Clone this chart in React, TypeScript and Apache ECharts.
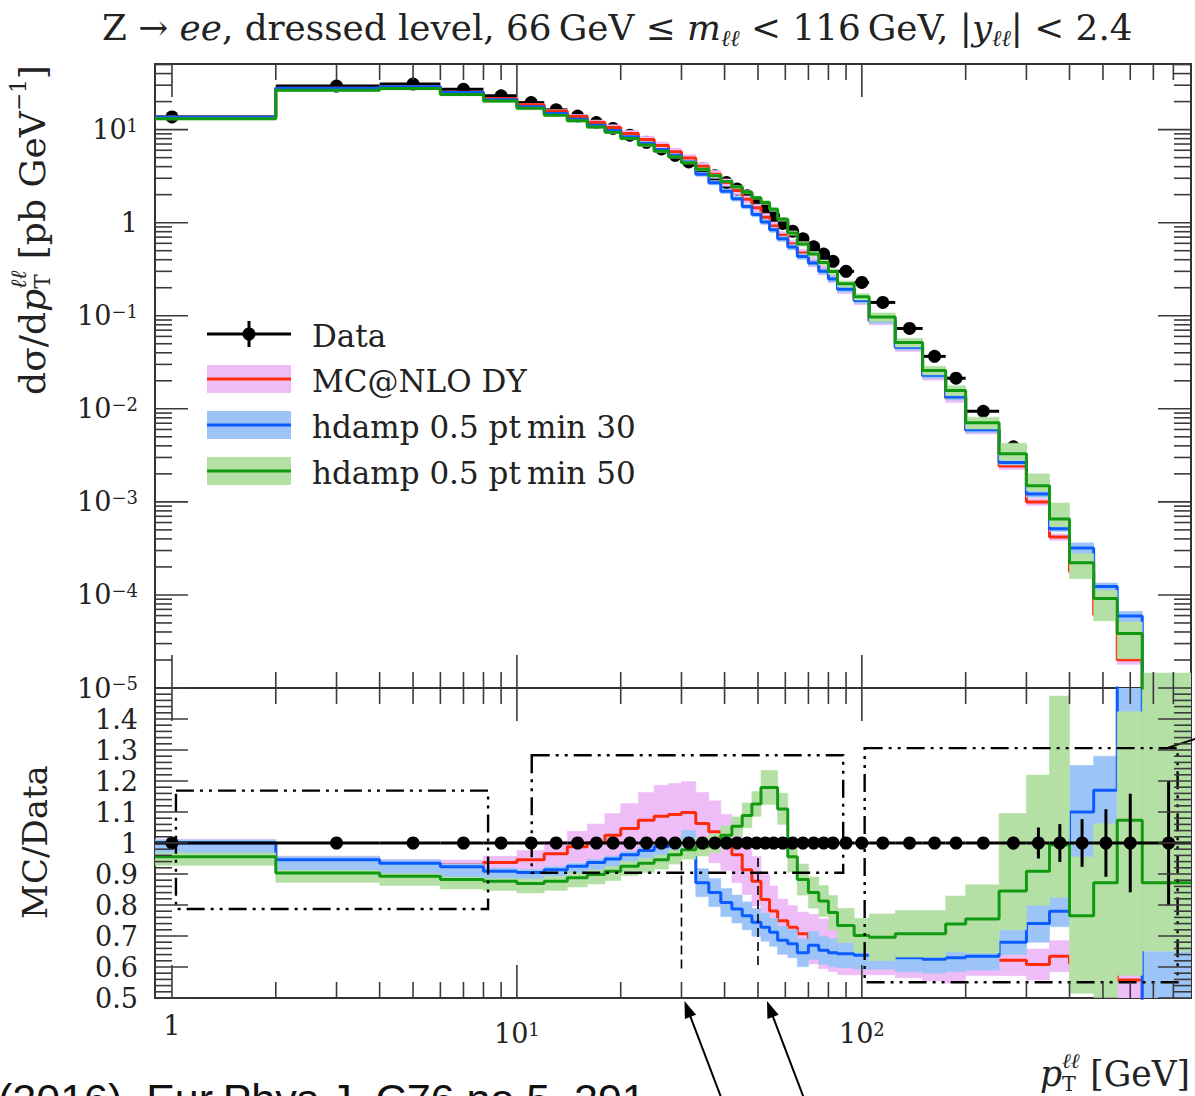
import React, { useEffect, useRef } from 'react';
import * as echarts from 'echarts';

// ---------------- data ----------------
const binEdges = [0, 2, 4, 6, 8, 10, 12, 14, 16, 18, 20, 22.5, 25, 27.5, 30, 33, 36, 39, 42, 45, 48, 51, 54, 57, 61, 65, 70, 75, 80, 85, 95, 105, 125, 150, 175, 200, 250, 300, 350, 400, 470, 550, 650, 900];

// dσ/dpT [pb/GeV]
const dataXsec = [13.7, 29.4, 30.9, 27.1, 23.1, 19.5, 16.3, 14.0, 11.9, 10.3, 8.7, 7.3, 6.2, 5.3, 4.5, 3.8, 3.2, 2.7, 2.3, 1.95, 1.65, 1.4, 1.18, 0.98, 0.81, 0.67, 0.55, 0.46, 0.385, 0.30, 0.228, 0.139, 0.073, 0.0366, 0.0213, 0.0094, 0.0039, 0.00164, 0.00066, 0.00029, 0.000105, 0.000036, 0.0000095];
const dataRelErr = [0.006, 0.005, 0.005, 0.005, 0.005, 0.005, 0.005, 0.005, 0.005, 0.005, 0.005, 0.005, 0.005, 0.005, 0.005, 0.005, 0.005, 0.006, 0.006, 0.006, 0.006, 0.006, 0.006, 0.006, 0.006, 0.007, 0.007, 0.007, 0.008, 0.008, 0.008, 0.009, 0.01, 0.012, 0.014, 0.016, 0.02, 0.05, 0.061, 0.077, 0.109, 0.159, 0.2];

// MC / Data ratios and band half-widths
const mcnloRatio = [1.0, 0.946, 0.935, 0.93, 0.937, 0.946, 0.965, 0.988, 1.001, 1.025, 1.047, 1.073, 1.086, 1.092, 1.098, 1.063, 1.036, 1.002, 0.962, 0.914, 0.877, 0.818, 0.781, 0.749, 0.728, 0.707, 0.69, 0.675, 0.665, 0.655, 0.645, 0.635, 0.625, 0.615, 0.608, 0.622, 0.622, 0.608, 0.635, 0.611, 0.585, 0.558, 0.45];
const mcnloBand = [0.012, 0.012, 0.012, 0.015, 0.02, 0.03, 0.04, 0.05, 0.06, 0.07, 0.08, 0.09, 0.1, 0.1, 0.1, 0.1, 0.1, 0.09, 0.09, 0.08, 0.08, 0.08, 0.08, 0.07, 0.07, 0.07, 0.08, 0.08, 0.08, 0.08, 0.07, 0.06, 0.06, 0.06, 0.06, 0.05, 0.05, 0.05, 0.05, 0.06, 0.06, 0.06, 0.08];

const hdamp30Ratio = [1.0, 0.946, 0.935, 0.923, 0.909, 0.905, 0.914, 0.925, 0.937, 0.948, 0.962, 0.976, 0.988, 0.999, 0.995, 0.872, 0.84, 0.808, 0.787, 0.765, 0.744, 0.728, 0.712, 0.686, 0.675, 0.646, 0.67, 0.654, 0.646, 0.643, 0.638, 0.638, 0.63, 0.625, 0.63, 0.635, 0.68, 0.74, 0.78, 1.1, 1.17, 1.65, 0.48];
const hdamp30BandUp = [0.01, 0.01, 0.01, 0.01, 0.01, 0.01, 0.01, 0.01, 0.01, 0.01, 0.01, 0.01, 0.01, 0.01, 0.045, 0.045, 0.045, 0.045, 0.045, 0.045, 0.045, 0.045, 0.045, 0.045, 0.045, 0.045, 0.045, 0.045, 0.045, 0.045, 0.045, 0.045, 0.045, 0.045, 0.045, 0.045, 0.04, 0.06, 0.05, 0.15, 0.11, 0.2, 0.17];
const hdamp30BandDn = [0.035, 0.035, 0.035, 0.035, 0.035, 0.035, 0.035, 0.035, 0.035, 0.035, 0.035, 0.035, 0.035, 0.035, 0.03, 0.045, 0.045, 0.045, 0.045, 0.045, 0.045, 0.045, 0.045, 0.045, 0.045, 0.045, 0.045, 0.045, 0.045, 0.045, 0.045, 0.045, 0.045, 0.045, 0.045, 0.045, 0.04, 0.06, 0.05, 0.15, 0.11, 0.23, 0.15];

const hdamp50Ratio = [0.956, 0.903, 0.893, 0.882, 0.877, 0.869, 0.877, 0.888, 0.898, 0.909, 0.925, 0.935, 0.946, 0.962, 0.978, 0.988, 0.999, 1.025, 1.054, 1.089, 1.126, 1.179, 1.179, 1.11, 0.956, 0.882, 0.84, 0.813, 0.776, 0.734, 0.702, 0.696, 0.707, 0.707, 0.739, 0.755, 0.845, 0.909, 0.994, 0.765, 0.872, 1.073, 0.872];
const hdamp50BandUp = [0.012, 0.008, 0.008, 0.008, 0.008, 0.015, 0.015, 0.015, 0.015, 0.015, 0.015, 0.015, 0.015, 0.015, 0.03, 0.03, 0.03, 0.03, 0.03, 0.04, 0.04, 0.055, 0.055, 0.05, 0.05, 0.05, 0.05, 0.05, 0.055, 0.055, 0.055, 0.075, 0.075, 0.075, 0.09, 0.11, 0.25, 0.31, 0.48, 0.19, 0.19, 0.35, 0.65];
const hdamp50BandDn = [0.028, 0.03, 0.03, 0.03, 0.03, 0.03, 0.03, 0.03, 0.03, 0.03, 0.03, 0.03, 0.03, 0.03, 0.03, 0.03, 0.03, 0.03, 0.03, 0.04, 0.04, 0.055, 0.055, 0.05, 0.05, 0.05, 0.05, 0.05, 0.055, 0.055, 0.055, 0.075, 0.075, 0.075, 0.09, 0.11, 0.125, 0.11, 0.17, 0.25, 0.37, 0.5, 0.22];

// axes
const X_MIN = 0.893;
const X_MAX = 900;
const Y_TOP_MIN = 1e-5;
const Y_TOP_MAX = 50.7;
const R_MIN = 0.5;
const R_MAX = 1.5;

const xMajorTicks = [1, 10, 100];
const xTickLabels = ['1', '10^1', '10^2'];
const yTopMajorTicks = [1e-5, 1e-4, 1e-3, 1e-2, 1e-1, 1, 10];
const yTopTickLabels = ['10^−5', '10^−4', '10^−3', '10^−2', '10^−1', '1', '10^1'];
const ratioMajorTicks = [0.5, 0.6, 0.7, 0.8, 0.9, 1.0, 1.1, 1.2, 1.3, 1.4];
const ratioTickLabels = ['0.5', '0.6', '0.7', '0.8', '0.9', '1', '1.1', '1.2', '1.3', '1.4'];

// annotations (ratio-panel coordinates)
const annotationBoxes = [
  [1.027, 8.25, 0.787, 1.169],
  [11.04, 88.3, 0.904, 1.283],
  [101.9, 823, 0.551, 1.306],
];
const markerPt = [30, 50];
const markerRange = [[0.586, 0.94], [0.605, 0.952]];

// ---------------- styles ----------------
const SERIF = 'DejaVu Serif';
const INK = '#222';
const TICK = '#3a3a3a';
const RED = '#ff2a0a';
const PINK = '#eebdf7';
const BLUE = '#0a5cff';
const LBLUE = '#9dc4f7';
const GREEN = '#119a11';
const LGREEN = '#b4e0a5';

const binLo = (i: number) => Math.max(binEdges[i], X_MIN);
const binHi = (i: number) => binEdges[i + 1];
const binCenter = (i: number) => (binEdges[i] + binEdges[i + 1]) / 2;

// ---------- text helpers ----------
let measureCtx: any = null;
function textWidth(t: string, font: string) {
  if (!measureCtx) measureCtx = document.createElement('canvas').getContext('2d');
  measureCtx.font = font;
  return measureCtx.measureText(t).width;
}
type Piece = { t: string; s?: number; it?: boolean; dy?: number; stack?: boolean };
function composeText(pieces: Piece[], base: number, target: number | null, align: string) {
  const fontOf = (p: Piece, S: number) => `${p.it ? 'italic ' : ''}${(p.s || 1) * S}px "${SERIF}"`;
  const layout = (S: number) => {
    const out: any[] = [];
    let x = 0;
    for (let i = 0; i < pieces.length; i++) {
      const p = pieces[i];
      const w = textWidth(p.t, fontOf(p, S));
      out.push({ p, x });
      if (p.stack && i + 1 < pieces.length) {
        const q = pieces[i + 1];
        const w2 = textWidth(q.t, fontOf(q, S));
        out.push({ p: q, x });
        x += Math.max(w, w2);
        i++;
      } else x += w;
    }
    return { out, width: x };
  };
  let S = base;
  let L = layout(S);
  if (target) {
    S = (base * target) / L.width;
    L = layout(S);
  }
  const x0 = align === 'left' ? 0 : align === 'center' ? -L.width / 2 : -L.width;
  return L.out.map((o: any) => ({
    type: 'text',
    x: x0 + o.x,
    y: (o.p.dy || 0) * S,
    style: {
      text: o.p.t, fontFamily: SERIF, fontSize: (o.p.s || 1) * S, fontStyle: o.p.it ? 'italic' : 'normal',
      fill: INK, align: 'left', verticalAlign: 'middle',
    },
  }));
}

function labelRich(size: number, expSize: number) {
  return {
    b: { fontFamily: SERIF, fontSize: size, lineHeight: size, verticalAlign: 'bottom', fill: INK, color: INK },
    e: { fontFamily: SERIF, fontSize: expSize, lineHeight: expSize, padding: [0, 0, Math.round(size * 0.45), 0], verticalAlign: 'top', fill: INK, color: INK },
  };
}
function labelText(s: string) {
  const p = s.split('^');
  return p.length === 2 ? `{b|${p[0]}}{e|${p[1]}}` : `{b|${s}}`;
}

// ---------- series builders ----------
function bandSeries(xi: number, lo: number[], hi: number[], color: string, z: number) {
  return {
    type: 'custom', xAxisIndex: xi, yAxisIndex: xi, clip: true, z, silent: true,
    data: lo.map((l, i) => [binLo(i), binHi(i), l, hi[i]]),
    encode: { x: [0, 1], y: [2, 3] },
    renderItem: (params: any, api: any) => {
      const a = api.coord([api.value(0), api.value(3)]);
      const b = api.coord([api.value(1), api.value(2)]);
      return {
        type: 'rect',
        shape: { x: a[0], y: a[1], width: b[0] - a[0], height: b[1] - a[1] },
        style: { fill: color, stroke: color, lineWidth: 0.6 },
      };
    },
  };
}

function stepSeries(xi: number, vals: number[], color: string, z: number) {
  const pts = vals.map((v, i) => [binLo(i), v]);
  pts.push([binEdges[binEdges.length - 1], vals[vals.length - 1]]);
  return {
    type: 'line', xAxisIndex: xi, yAxisIndex: xi, data: pts, step: 'end', symbol: 'none', showSymbol: false,
    clip: true, z, silent: true, animation: false,
    lineStyle: { color, width: 3 },
  };
}

function dataSeries(xi: number, vals: number[], lo: number[], hi: number[], z: number) {
  return {
    type: 'custom', xAxisIndex: xi, yAxisIndex: xi, clip: true, z, silent: true,
    data: vals.map((v, i) => [binLo(i), binHi(i), binCenter(i), v, lo[i], hi[i]]),
    encode: { x: [0, 1, 2], y: [3, 4, 5] },
    renderItem: (params: any, api: any) => {
      const pL = api.coord([api.value(0), api.value(3)]);
      const pR = api.coord([api.value(1), api.value(3)]);
      const pC = api.coord([api.value(2), api.value(3)]);
      const pLo = api.coord([api.value(2), api.value(4)]);
      const pHi = api.coord([api.value(2), api.value(5)]);
      return {
        type: 'group',
        children: [
          { type: 'line', shape: { x1: pL[0], y1: pL[1], x2: pR[0], y2: pR[1] }, style: { stroke: '#000', lineWidth: 3 } },
          { type: 'line', shape: { x1: pC[0], y1: pLo[1], x2: pC[0], y2: pHi[1] }, style: { stroke: '#000', lineWidth: 3 } },
          { type: 'circle', shape: { cx: pC[0], cy: pC[1], r: 6.5 }, style: { fill: '#000' } },
        ],
      };
    },
  };
}

function xTickSeries(gi: number, withLabels: boolean) {
  const items: any[] = [];
  xMajorTicks.forEach((v, k) => items.push([v, 1, 1, k]));
  [1, 10, 100].forEach((d) => {
    for (let m = 2; m <= 9; m++) if (m * d < X_MAX) items.push([m * d, 1, 0, -1]);
  });
  const rich = labelRich(27, 18);
  return {
    type: 'custom', xAxisIndex: gi, yAxisIndex: gi, z: 20, silent: true, clip: false,
    data: items, encode: { x: 0, y: 1 },
    renderItem: (params: any, api: any) => {
      const cs = params.coordSys;
      const px = api.coord([api.value(0), api.value(1)])[0];
      const len = api.value(2) ? 33 : 16;
      const st = { stroke: TICK, lineWidth: 1.6 };
      const children: any[] = [
        { type: 'line', shape: { x1: px, y1: cs.y, x2: px, y2: cs.y + len }, style: st },
        { type: 'line', shape: { x1: px, y1: cs.y + cs.height, x2: px, y2: cs.y + cs.height - len }, style: st },
      ];
      const li = api.value(3);
      if (withLabels && li >= 0) {
        const lab = xTickLabels[li];
        const hasExp = lab.indexOf('^') >= 0;
        children.push({
          type: 'text', x: px, y: cs.y + cs.height + (hasExp ? 22 : 14),
          style: { text: labelText(lab), rich, align: 'center', verticalAlign: 'top', fill: INK, fontFamily: SERIF, fontSize: 27 },
        });
      }
      return { type: 'group', children };
    },
  };
}

function yTickSeries(gi: number, majors: number[], labels: string[], minors: number[]) {
  const items: any[] = [];
  majors.forEach((v, k) => items.push([1, v, 1, k]));
  minors.forEach((v) => items.push([1, v, 0, -1]));
  const rich = labelRich(27, 18);
  return {
    type: 'custom', xAxisIndex: gi, yAxisIndex: gi, z: 20, silent: true, clip: false,
    data: items, encode: { x: 0, y: 1 },
    renderItem: (params: any, api: any) => {
      const cs = params.coordSys;
      const py = api.coord([api.value(0), api.value(1)])[1];
      const len = api.value(2) ? 33 : 17;
      const st = { stroke: TICK, lineWidth: 1.6 };
      const children: any[] = [
        { type: 'line', shape: { x1: cs.x, y1: py, x2: cs.x + len, y2: py }, style: st },
        { type: 'line', shape: { x1: cs.x + cs.width, y1: py, x2: cs.x + cs.width - len, y2: py }, style: st },
      ];
      const li = api.value(3);
      if (li >= 0) {
        children.push({
          type: 'text', x: cs.x - 17, y: py,
          style: { text: labelText(labels[li]), rich, align: 'right', verticalAlign: 'middle', fill: INK, fontFamily: SERIF, fontSize: 27 },
        });
      }
      return { type: 'group', children };
    },
  };
}

function annotationSeries() {
  return {
    type: 'custom', xAxisIndex: 1, yAxisIndex: 1, z: 15, silent: true, clip: false,
    data: [[1, 1]], encode: { x: 0, y: 1 },
    renderItem: (params: any, api: any) => {
      const children: any[] = [];
      const dashDot = { stroke: '#000', lineWidth: 2.4, fill: 'none', lineDash: [18, 6, 3, 6, 3, 6] };
      annotationBoxes.forEach((b) => {
        const p1 = api.coord([b[0], b[3]]);
        const p2 = api.coord([b[1], b[2]]);
        children.push({
          type: 'polygon',
          shape: { points: [[p1[0], p1[1]], [p2[0], p1[1]], [p2[0], p2[1]], [p1[0], p2[1]]] },
          style: dashDot,
        });
      });
      const b3 = annotationBoxes[2];
      const c3 = api.coord([b3[1], b3[3]]);
      children.push({ type: 'line', shape: { x1: c3[0] - 11, y1: c3[1], x2: c3[0] + 20, y2: c3[1] - 10 }, style: { stroke: '#000', lineWidth: 2 } });
      markerPt.forEach((x, k) => {
        const a = api.coord([x, markerRange[k][1]]);
        const b = api.coord([x, markerRange[k][0]]);
        children.push({ type: 'line', shape: { x1: a[0], y1: a[1], x2: b[0], y2: b[1] }, style: { stroke: '#000', lineWidth: 1.6, lineDash: [9, 5] } });
        const tip = api.coord([x, R_MIN]);
        const tx = tip[0] + 3 + k * 6;
        const ty = tip[1] + 3;
        const dx = 38, dy = 100;
        const L = Math.sqrt(dx * dx + dy * dy);
        const ux = dx / L, uy = dy / L;
        const hl = 17, hw = 6;
        children.push({ type: 'line', shape: { x1: tx + ux * 10, y1: ty + uy * 10, x2: tx + dx, y2: ty + dy }, style: { stroke: '#000', lineWidth: 2 } });
        children.push({
          type: 'polygon',
          shape: { points: [[tx, ty], [tx + ux * hl - uy * hw, ty + uy * hl + ux * hw], [tx + ux * hl + uy * hw, ty + uy * hl - ux * hw]] },
          style: { fill: '#000' },
        });
      });
      return { type: 'group', children };
    },
  };
}

function buildOption() {
  const mcs = [
    { ratio: mcnloRatio, up: mcnloBand, dn: mcnloBand, line: RED, band: PINK },
    { ratio: hdamp30Ratio, up: hdamp30BandUp, dn: hdamp30BandDn, line: BLUE, band: LBLUE },
    { ratio: hdamp50Ratio, up: hdamp50BandUp, dn: hdamp50BandDn, line: GREEN, band: LGREEN },
  ];
  const series: any[] = [];
  // data in the upper panel sits beneath the predictions
  series.push(dataSeries(0, dataXsec, dataXsec.map((v, i) => v * (1 - dataRelErr[i])), dataXsec.map((v, i) => v * (1 + dataRelErr[i])), 1));
  mcs.forEach((m, k) => {
    const z = 2 + 2 * k;
    const topVals = m.ratio.map((r, i) => r * dataXsec[i]);
    const topLo = m.ratio.map((r, i) => (r - m.dn[i]) * dataXsec[i]);
    const topHi = m.ratio.map((r, i) => (r + m.up[i]) * dataXsec[i]);
    series.push(bandSeries(0, topLo, topHi, m.band, z));
    series.push(stepSeries(0, topVals, m.line, z + 1));
    series.push(bandSeries(1, m.ratio.map((r, i) => r - m.dn[i]), m.ratio.map((r, i) => r + m.up[i]), m.band, z));
    series.push(stepSeries(1, m.ratio, m.line, z + 1));
  });
  const ones = dataXsec.map(() => 1);
  series.push(dataSeries(1, ones, dataRelErr.map((e) => 1 - e), dataRelErr.map((e) => 1 + e), 10));

  const topMinors: number[] = [];
  for (let e = -5; e <= 1; e++) for (let m = 2; m <= 9; m++) { const v = m * Math.pow(10, e); if (v < Y_TOP_MAX) topMinors.push(v); }
  const ratioMinors: number[] = [];
  for (let k = 51; k < 150; k++) if (k % 2 === 0 && k % 10 !== 0) ratioMinors.push(k / 100);

  series.push(xTickSeries(0, false));
  series.push(xTickSeries(1, true));
  series.push(yTickSeries(0, yTopMajorTicks, yTopTickLabels, topMinors));
  series.push(yTickSeries(1, ratioMajorTicks, ratioTickLabels, ratioMinors));
  series.push(annotationSeries());

  const hidden = { axisLine: { show: false }, axisTick: { show: false }, axisLabel: { show: false }, splitLine: { show: false } };

  // legend
  const legendY = [334, 379, 425, 471];
  const legendLabels = ['Data', 'MC@NLO DY', 'hdamp 0.5 pt\u2009min 30', 'hdamp 0.5 pt\u2009min 50'];
  const legendBand = [null, PINK, LBLUE, LGREEN];
  const legendLine = ['#000', RED, BLUE, GREEN];
  const graphics: any[] = [];
  legendY.forEach((y, k) => {
    if (legendBand[k]) graphics.push({ type: 'rect', shape: { x: 207, y: y - 14, width: 84, height: 28 }, style: { fill: legendBand[k] } });
    graphics.push({ type: 'line', shape: { x1: 207, y1: y, x2: 291, y2: y }, style: { stroke: legendLine[k], lineWidth: 3 } });
    if (k === 0) {
      graphics.push({ type: 'line', shape: { x1: 249, y1: y - 13, x2: 249, y2: y + 13 }, style: { stroke: '#000', lineWidth: 3 } });
      graphics.push({ type: 'circle', shape: { cx: 249, cy: y, r: 6.5 }, style: { fill: '#000' } });
    }
    graphics.push({ type: 'text', x: 312, y: y + 2, style: { text: legendLabels[k], fontFamily: SERIF, fontSize: 31, fill: INK, align: 'left', verticalAlign: 'middle' } });
  });

  // title
  graphics.push({
    type: 'group', x: 102, y: 27,
    children: composeText([
      { t: 'Z → ' }, { t: 'ee', it: true }, { t: ', dressed level, 66\u2009GeV ≤ ' }, { t: 'm', it: true },
      { t: 'ℓℓ', s: 0.63, it: true, dy: 0.3 }, { t: ' < 116\u2009GeV, |' }, { t: 'y', it: true },
      { t: 'ℓℓ', s: 0.63, it: true, dy: 0.3 }, { t: '| < 2.4' },
    ], 32, 1031, 'left'),
  });
  // y-axis title (upper panel)
  graphics.push({
    type: 'group', x: 32, y: 230, rotation: Math.PI / 2,
    children: composeText([
      { t: 'dσ/d' }, { t: 'p', it: true }, { t: 'T', s: 0.6, dy: 0.3, stack: true }, { t: 'ℓℓ', s: 0.6, it: true, dy: -0.38 },
      { t: ' [pb GeV' }, { t: '−1', s: 0.6, dy: -0.38 }, { t: ']' },
    ], 31, 330, 'center'),
  });
  // y-axis title (ratio panel)
  graphics.push({
    type: 'text', x: 35, y: 842, rotation: Math.PI / 2,
    style: { text: 'MC/Data', fontFamily: SERIF, fontSize: 34, fill: INK, align: 'center', verticalAlign: 'middle' },
  });
  // x-axis title
  graphics.push({
    type: 'group', x: 1190, y: 1074,
    children: composeText([
      { t: 'p', it: true }, { t: 'T', s: 0.6, dy: 0.3, stack: true }, { t: 'ℓℓ', s: 0.6, it: true, dy: -0.38 }, { t: ' [GeV]' },
    ], 30, 150, 'right'),
  });
  // citation fragment cut at the bottom edge
  graphics.push({
    type: 'text', x: -2, y: 1077,
    style: { text: '(2016). Eur.Phys.J. C76 no.5, 291', fontFamily: 'Liberation Sans', fontSize: 43, fill: '#111', align: 'left', verticalAlign: 'top' },
  });

  return {
    animation: false,
    backgroundColor: '#fff',
    grid: [
      { left: 155, top: 64, width: 1036, height: 624, show: true, borderColor: '#333', borderWidth: 2, backgroundColor: 'transparent' },
      { left: 155, top: 688, width: 1036, height: 310, show: true, borderColor: '#333', borderWidth: 2, backgroundColor: 'transparent' },
    ],
    xAxis: [
      { type: 'log', logBase: 10, gridIndex: 0, min: X_MIN, max: X_MAX, ...hidden },
      { type: 'log', logBase: 10, gridIndex: 1, min: X_MIN, max: X_MAX, ...hidden },
    ],
    yAxis: [
      { type: 'log', logBase: 10, gridIndex: 0, min: Y_TOP_MIN, max: Y_TOP_MAX, ...hidden },
      { type: 'value', gridIndex: 1, min: R_MIN, max: R_MAX, ...hidden },
    ],
    series,
    graphic: { elements: graphics },
  };
}

export default function App() {
  const ref = useRef<HTMLDivElement>(null);
  useEffect(() => {
    document.body.style.margin = '0';
    const chart = echarts.init(ref.current as HTMLDivElement, null, { renderer: 'svg' });
    chart.setOption(buildOption() as any);
    return () => chart.dispose();
  }, []);
  return <div ref={ref} style={{ width: 1195, height: 1096 }} />;
}
